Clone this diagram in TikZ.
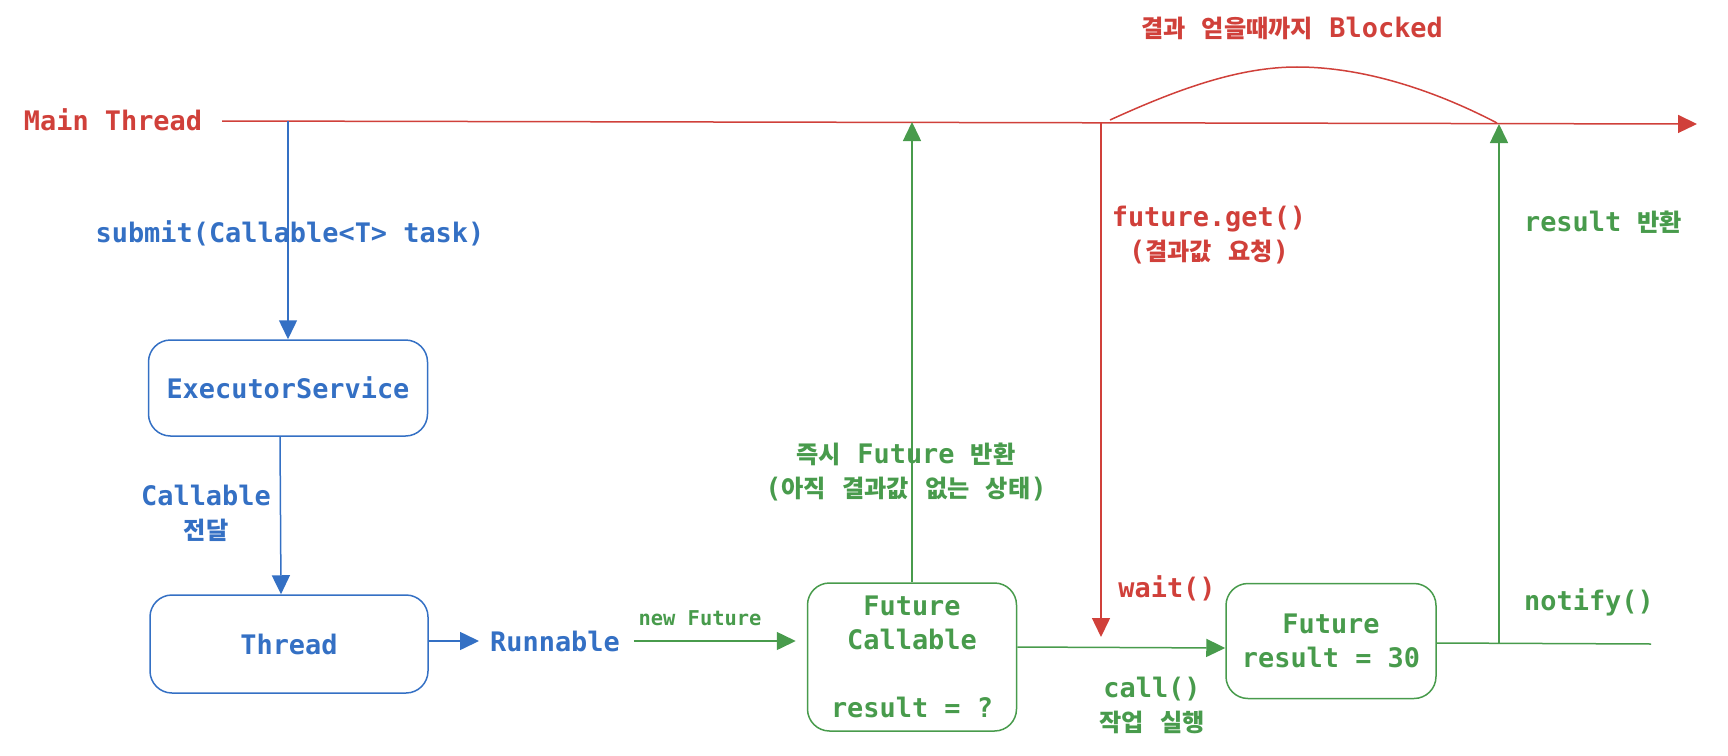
\documentclass[tikz,border=0pt]{standalone}
\usepackage{fontspec}
\setmainfont{DejaVu Sans Mono}
\newfontfamily\K[Scale=0.9]{Noto Sans CJK KR}
\newcommand\hg[1]{{\K #1}}
\usetikzlibrary{arrows.meta}
\definecolor{cred}{RGB}{208,64,58}
\definecolor{cblue}{RGB}{52,112,196}
\definecolor{cgreen}{RGB}{72,155,76}
\tikzset{
  lbl/.style={font=\fontsize{27}{34}\selectfont\bfseries, align=center, inner sep=0pt},
  smalllbl/.style={font=\fontsize{20.5}{24}\selectfont\bfseries, align=center, inner sep=0pt},
  box/.style={draw, line width=1.5bp, rounded corners=22bp, inner sep=0pt,
    font=\fontsize{27}{34}\selectfont\bfseries, align=center},
  arr/.style={line width=1.5bp, -{Triangle[length=19bp,width=18bp]}},
  ln/.style={line width=1.5bp}
}
\begin{document}
\begin{tikzpicture}[x=1bp,y=-1bp]
\useasboundingbox (0,0) rectangle (1728,756);

% main thread
\node[lbl,text=cred] (main) at (113,120) {Main Thread};
\coordinate (m0) at (222,121);
\coordinate (m1) at (288,121);
\coordinate (m2) at (912,122);
\coordinate (m3) at (1101,122);
\coordinate (m4) at (1499,124);
\coordinate (mE) at (1697,124);
\draw[arr,cred] (m0) -- (mE);

% blocked arc
\coordinate (b0) at (1110,120);
\coordinate (b1) at (1497,123);
\draw[ln,cred] (b0) .. controls (1180,88) and (1240,67) .. (1297,67)
  .. controls (1360,67) and (1430,88) .. (b1);
\node[lbl,text=cred] (blk) at (1292,28) {\hg{결과} \hg{얻을때까지} Blocked};

% blue part
\node[box,draw=cblue,text=cblue,minimum width=279bp,minimum height=96bp] (es) at (288,388) {ExecutorService};
\node[box,draw=cblue,text=cblue,minimum width=278bp,minimum height=98bp] (th) at (289,644) {Thread};
\node[lbl,text=cblue] (run) at (555,641) {Runnable};
\draw[arr,cblue] (m1) -- (es.north);
\node[lbl,text=cblue] (sub) at (290,233) {submit(Callable<T> task)};
\draw[arr,cblue] ([xshift=-8bp]es.south) -- ([xshift=-8bp]th.north);
\node[lbl,text=cblue] (cd) at (206,513) {Callable\\\hg{전달}};
\draw[arr,cblue,shorten >=11bp] (run.west -| th.east) -- (run.west);

% green part
\node[box,draw=cgreen,text=cgreen,minimum width=209bp,minimum height=148bp] (fc) at (912,657) {Future\\Callable\\\mbox{}\\result = ?};
\node[box,draw=cgreen,text=cgreen,minimum width=210bp,minimum height=115bp] (fu) at (1331,641) {Future\\result = 30};
\draw[arr,cgreen,shorten <=14bp,shorten >=11bp] (run.east) -- (run.east -| fc.west);
\node[smalllbl,text=cgreen] (nf) at (700,618) {new Future};
\draw[arr,cgreen] (fc.north) -- (m2);
\node[lbl,text=cgreen] (ret1) at (906,472) {\hg{즉시} Future \hg{반환}\\(\hg{아직} \hg{결과값} \hg{없는} \hg{상태})};

% red get
\coordinate (w) at (1101,637);
\draw[arr,cred] (m3) -- (w);
\node[lbl,text=cred] (get) at (1209,235) {future.get()\\(\hg{결과값} \hg{요청})};
\node[lbl,text=cred] (wt) at (1167,588) {wait()};

% call
\draw[arr,cgreen] ([yshift=10bp]fc.east) -- ([yshift=-7bp]fu.west);
\node[lbl,text=cgreen] (call) at (1152,705) {call()\\\hg{작업} \hg{실행}};

% notify
\coordinate (n) at (1651,644);
\coordinate (r0) at (1499,643);
\draw[ln,cgreen] ([yshift=-2bp]fu.east) -- (n);
\draw[arr,cgreen] (r0) -- (m4);
\node[lbl,text=cgreen] (rr) at (1603,222) {result \hg{반환}};
\node[lbl,text=cgreen] (nt) at (1589,602) {notify()};
\end{tikzpicture}
\end{document}
